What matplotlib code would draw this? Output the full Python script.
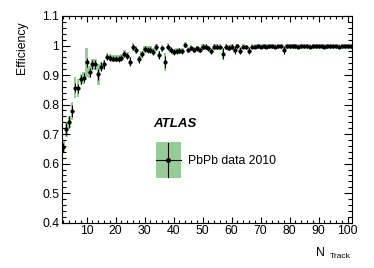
import matplotlib
matplotlib.use("Agg")
import matplotlib.pyplot as plt
from matplotlib.ticker import MultipleLocator, FormatStrFormatter
from matplotlib.patches import Rectangle

# ==========================
# Data
# ==========================

n_track = list(range(2, 102))

efficiency = [
    0.655, 0.716, 0.740, 0.778, 0.857, 0.855, 0.885, 0.891, 0.943, 0.909,   # 2-11
    0.936, 0.936, 0.902, 0.928, 0.936, 0.962, 0.959, 0.956, 0.956, 0.955,   # 12-21
    0.959, 0.972, 0.965, 0.945, 0.995, 0.985, 0.953, 0.970, 0.987, 0.986,   # 22-31
    0.986, 0.979, 0.994, 0.968, 0.990, 0.945, 0.996, 0.985, 0.979, 0.980,   # 32-41
    0.982, 0.980, 1.002, 0.985, 0.992, 0.985, 0.990, 0.985, 0.996, 0.996,   # 42-51
    0.990, 0.980, 0.996, 0.996, 0.995, 0.972, 0.996, 0.993, 0.996, 0.985,   # 52-61
    0.998, 0.982, 0.996, 0.995, 0.983, 0.996, 0.996, 0.997, 0.996, 0.997,   # 62-71
    0.996, 0.997, 0.997, 0.996, 0.997, 0.997, 0.985, 0.997, 0.997, 0.997,   # 72-81
    0.997, 0.996, 0.997, 0.997, 0.997, 0.996, 0.997, 0.997, 0.997, 0.997,   # 82-91
    0.996, 0.997, 0.997, 0.997, 0.997, 0.996, 0.997, 0.997, 0.997, 0.997,   # 92-101
]

stat_err = [
    0.015, 0.020, 0.020, 0.020, 0.015, 0.015, 0.015, 0.015, 0.015, 0.015,
    0.015, 0.015, 0.020, 0.015, 0.015, 0.010, 0.010, 0.010, 0.010, 0.010,
    0.010, 0.010, 0.010, 0.015, 0.010, 0.010, 0.012, 0.010, 0.010, 0.010,
    0.010, 0.010, 0.010, 0.012, 0.010, 0.020, 0.010, 0.010, 0.010, 0.008,
    0.008, 0.008, 0.008, 0.008, 0.008, 0.008, 0.008, 0.008, 0.008, 0.008,
    0.008, 0.008, 0.008, 0.008, 0.008, 0.018, 0.008, 0.008, 0.008, 0.012,
    0.006, 0.012, 0.006, 0.006, 0.012, 0.006, 0.006, 0.006, 0.006, 0.006,
    0.006, 0.006, 0.006, 0.006, 0.006, 0.006, 0.015, 0.006, 0.006, 0.006,
    0.006, 0.006, 0.006, 0.006, 0.006, 0.006, 0.006, 0.006, 0.006, 0.006,
    0.006, 0.006, 0.006, 0.006, 0.006, 0.006, 0.006, 0.006, 0.006, 0.006,
]

syst_err = [
    0.020, 0.025, 0.020, 0.030, 0.035, 0.030, 0.020, 0.020, 0.050, 0.020,
    0.020, 0.020, 0.035, 0.015, 0.015, 0.012, 0.012, 0.012, 0.012, 0.012,
    0.012, 0.012, 0.012, 0.015, 0.012, 0.012, 0.012, 0.012, 0.012, 0.012,
    0.012, 0.012, 0.012, 0.012, 0.012, 0.030, 0.012, 0.010, 0.010, 0.010,
    0.010, 0.010, 0.010, 0.010, 0.010, 0.010, 0.010, 0.010, 0.010, 0.010,
    0.010, 0.010, 0.010, 0.010, 0.010, 0.018, 0.010, 0.010, 0.010, 0.010,
    0.008, 0.010, 0.008, 0.008, 0.010, 0.008, 0.008, 0.008, 0.008, 0.008,
    0.008, 0.008, 0.008, 0.008, 0.008, 0.008, 0.010, 0.008, 0.008, 0.008,
    0.008, 0.008, 0.008, 0.008, 0.008, 0.008, 0.008, 0.008, 0.008, 0.008,
    0.008, 0.008, 0.008, 0.008, 0.008, 0.008, 0.008, 0.008, 0.008, 0.008,
]

# ==========================
# Style
# ==========================

plt.rcParams["font.family"] = ["Liberation Sans", "DejaVu Sans"]
plt.rcParams["font.size"] = 8.8

GREEN = "#96cd96"
W, H = 374, 268

fig = plt.figure(figsize=(W / 100, H / 100), dpi=100)
ax = fig.add_axes([62 / W, 1 - 222.7 / H, 290 / W, 206.7 / H])

# ==========================
# Systematic boxes + data points
# ==========================

bottoms = [e - s for e, s in zip(efficiency, syst_err)]
heights = [2 * s for s in syst_err]
ax.bar(n_track, heights, bottom=bottoms, width=0.9, color=GREEN, linewidth=0, zorder=1)

ax.errorbar(n_track, efficiency, yerr=stat_err, xerr=0.5, fmt="o", color="black",
            markersize=2.0, elinewidth=0.75, capsize=0, zorder=3)

# ==========================
# Axes
# ==========================

ax.set_xlim(1.5, 101.5)
ax.set_ylim(0.4, 1.1)

ax.xaxis.set_major_locator(MultipleLocator(10))
ax.xaxis.set_minor_locator(MultipleLocator(2))
ax.yaxis.set_major_locator(MultipleLocator(0.1))
ax.yaxis.set_minor_locator(MultipleLocator(0.02))
ax.yaxis.set_major_formatter(FormatStrFormatter("%g"))

ax.tick_params(which="both", direction="in", top=True, right=True, width=0.8, pad=2)
ax.tick_params(axis="x", which="major", length=4.3)
ax.tick_params(axis="x", which="minor", length=2.2)
ax.tick_params(axis="y", which="major", length=6)
ax.tick_params(axis="y", which="minor", length=3)
for side in ax.spines.values():
    side.set_linewidth(0.8)

# ==========================
# Labels
# ==========================

fig.text(22 / W, 1 - 21 / H, "Efficiency", rotation=90, ha="center", va="top")
fig.text(320 / W, 1 - 253 / H, "N", ha="center", va="center")
fig.text(330 / W, 1 - 257 / H, "Track", ha="left", va="center", fontsize=6)

# ==========================
# ATLAS label + legend
# ==========================

ax.text(0.314, 0.477, "ATLAS", transform=ax.transAxes, fontsize=9.5,
        fontweight="bold", fontstyle="italic", va="center", ha="left")

ax.add_patch(Rectangle((0.323, 0.215), 0.0885, 0.177, transform=ax.transAxes,
                       facecolor=GREEN, edgecolor="none", zorder=2))
ax.plot([0.323, 0.4115], [0.303, 0.303], transform=ax.transAxes, color="black", lw=0.8, zorder=3)
ax.plot([0.367, 0.367], [0.222, 0.385], transform=ax.transAxes, color="black", lw=0.8, zorder=3)
ax.plot([0.367], [0.303], "o", transform=ax.transAxes, color="black", markersize=2.5, zorder=4)
ax.text(0.433, 0.30, "PbPb data 2010", transform=ax.transAxes,
        va="center", ha="left")

fig.savefig("out.png", dpi=100)
